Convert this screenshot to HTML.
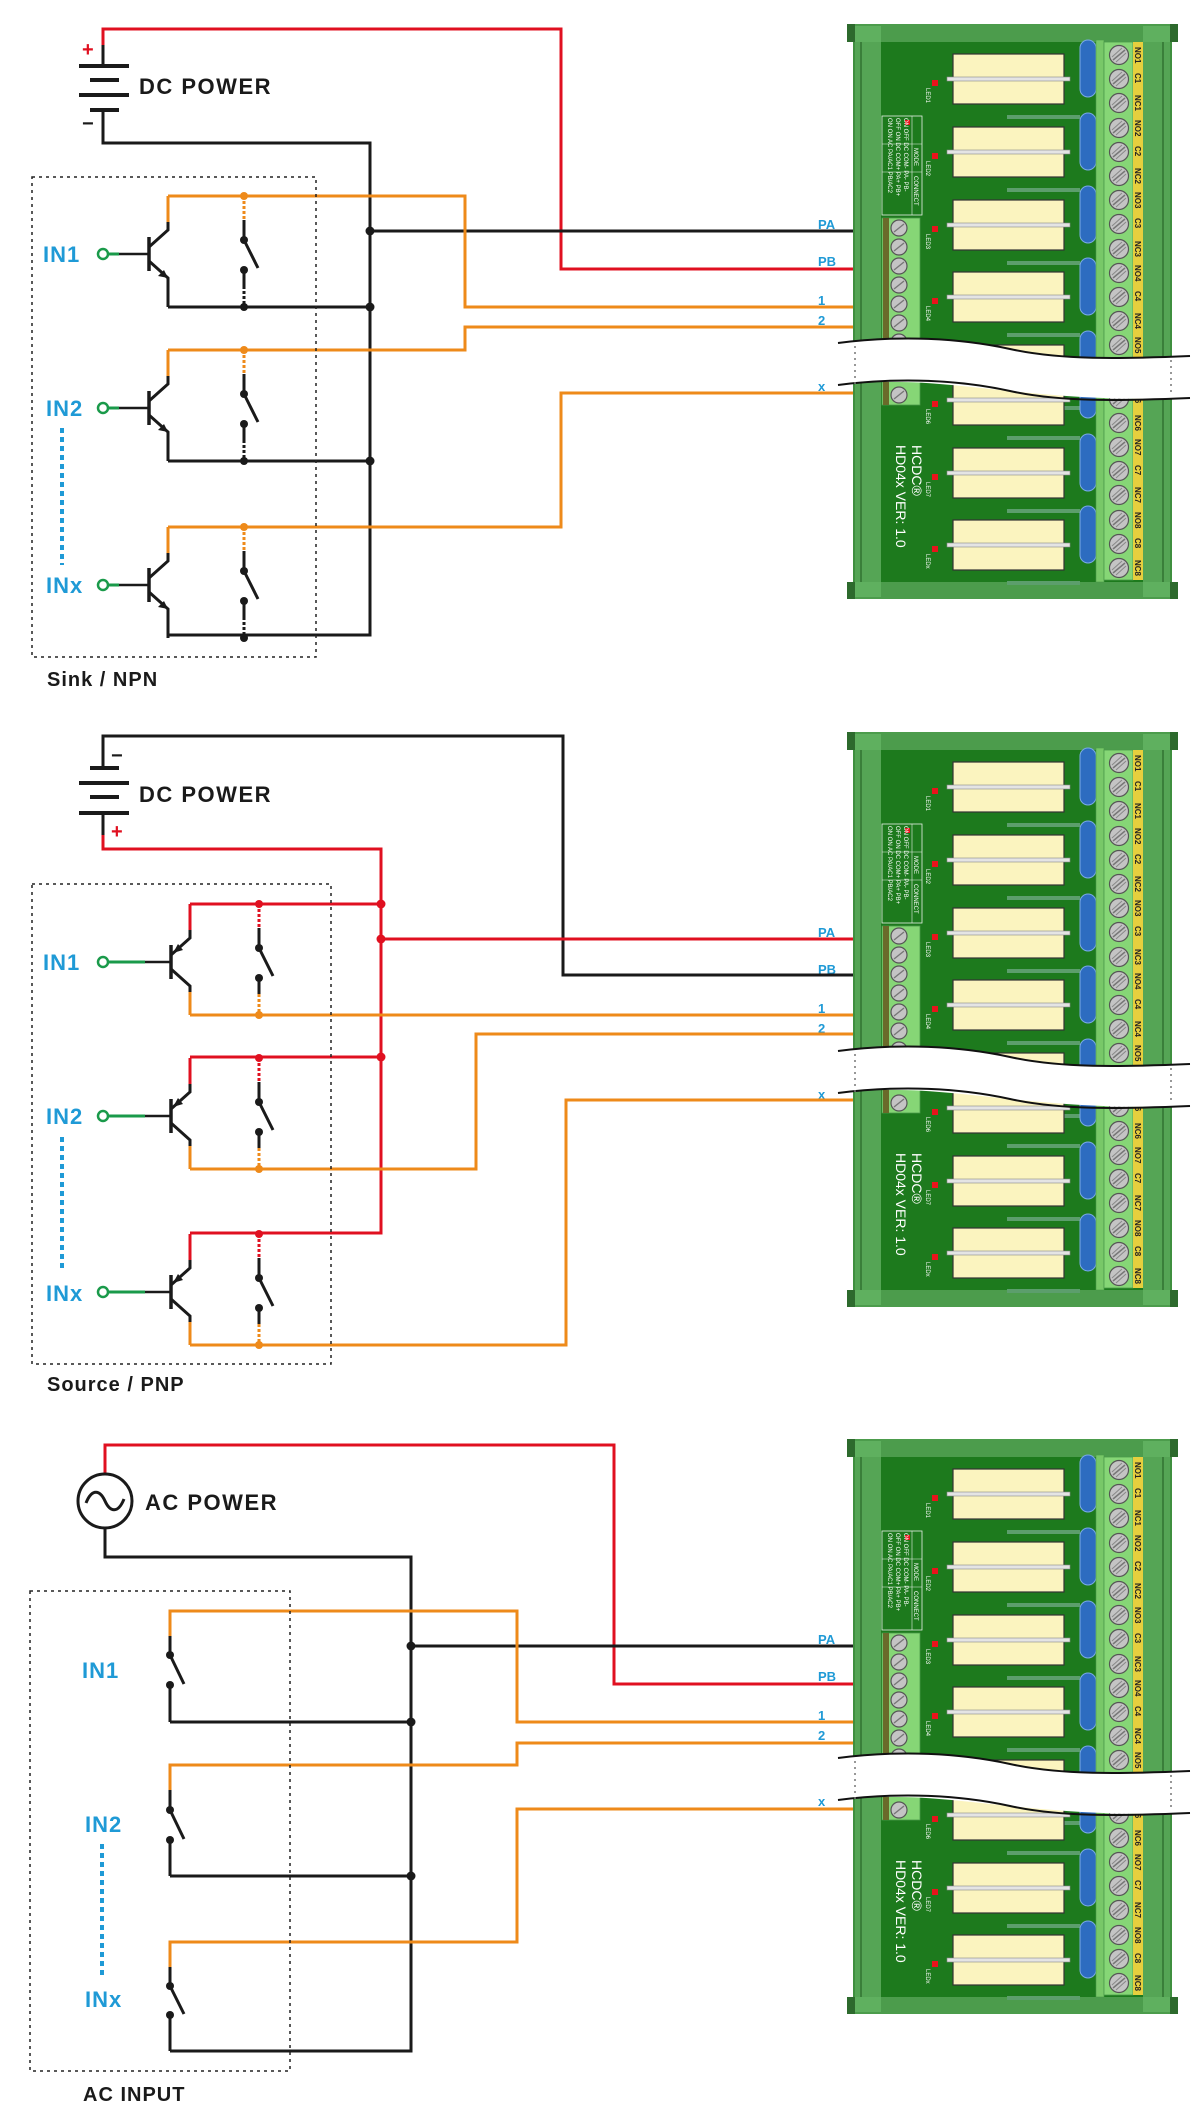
<!DOCTYPE html>
<html><head><meta charset="utf-8"><style>
html,body{margin:0;padding:0;background:#fff}
svg{display:block}
.lbl{font-family:"Liberation Sans",sans-serif;font-weight:bold;fill:#1f9ad6;font-size:22px;letter-spacing:1px}
.ttl{font-family:"Liberation Sans",sans-serif;font-weight:bold;fill:#1a1a1a;font-size:22px;letter-spacing:1.5px}
.cap{font-family:"Liberation Sans",sans-serif;font-weight:bold;fill:#1a1a1a;font-size:20px;letter-spacing:1px}
.wl{font-family:"Liberation Sans",sans-serif;font-weight:bold;fill:#1f9ad6;font-size:13px}
.tl{font-family:"Liberation Sans",sans-serif;font-weight:bold;fill:#222;font-size:8px}
.tiny{font-family:"Liberation Sans",sans-serif;fill:#fff;font-size:6px}
.brd{font-family:"Liberation Sans",sans-serif;fill:#fff;font-size:14px}
</style></head><body>
<svg width="1200" height="2122" viewBox="0 0 1200 2122" xmlns="http://www.w3.org/2000/svg">
<defs>
<g id="screw"><circle r="9.5" fill="#c4c4c4" stroke="#555" stroke-width="1.2"/><line x1="-6" y1="5" x2="6" y2="-5" stroke="#777" stroke-width="1.5"/><line x1="-3" y1="7" x2="7" y2="-2" stroke="#888" stroke-width="1"/><line x1="-7" y1="2" x2="3" y2="-7" stroke="#888" stroke-width="1"/></g>
<g id="sscrew"><circle r="8" fill="#c4c4c4" stroke="#555" stroke-width="1.2"/><line x1="-5" y1="4" x2="5" y2="-4" stroke="#777" stroke-width="1.4"/></g>
<g id="relay">
<rect x="953" y="0" width="111" height="50" fill="#fbf4bf" stroke="#333" stroke-width="1.2"/>
<rect x="947" y="23" width="123" height="4" fill="#e4e4e4" stroke="#888" stroke-width="0.6"/>
<rect x="932" y="26" width="6" height="6" fill="#e8141c"/>
<rect x="1080" y="-14" width="16" height="57" rx="8" fill="#2d6cc0" stroke="#7aaae6" stroke-width="1"/>
<rect x="1007" y="61" width="73" height="4" fill="#5c9e6c"/>
</g>
<g id="board">
<rect x="853" y="36" width="319" height="552" fill="#3f8f3f"/>
<rect x="855" y="36" width="26" height="552" fill="#55a555"/>
<rect x="860" y="36" width="2" height="552" fill="#3a7f3a"/>
<rect x="1143" y="36" width="27" height="552" fill="#55a555"/>
<rect x="1162" y="36" width="2" height="552" fill="#3a7f3a"/>
<rect x="881" y="36" width="262" height="546" fill="#1d7a1d"/>
<rect x="847" y="24" width="331" height="18" fill="#4c9c4c"/>
<rect x="847" y="24" width="8" height="18" fill="#2d6a2d"/><rect x="1170" y="24" width="8" height="18" fill="#2d6a2d"/>
<rect x="855" y="26" width="26" height="16" fill="#5fb05f"/><rect x="1143" y="26" width="27" height="16" fill="#5fb05f"/>
<rect x="847" y="582" width="331" height="17" fill="#4c9c4c"/>
<rect x="847" y="582" width="8" height="17" fill="#2d6a2d"/><rect x="1170" y="582" width="8" height="17" fill="#2d6a2d"/>
<rect x="855" y="582" width="26" height="15" fill="#5fb05f"/><rect x="1143" y="582" width="27" height="15" fill="#5fb05f"/>
<use href="#relay" y="54"/><use href="#relay" y="127"/><use href="#relay" y="200"/><use href="#relay" y="272"/><use href="#relay" y="345"/><use href="#relay" y="375"/><use href="#relay" y="448"/><use href="#relay" y="520"/>
<text class="tiny" transform="rotate(90 926 88)" x="926" y="88">LED1</text>
<text class="tiny" transform="rotate(90 926 161)" x="926" y="161">LED2</text>
<text class="tiny" transform="rotate(90 926 234)" x="926" y="234">LED3</text>
<text class="tiny" transform="rotate(90 926 306)" x="926" y="306">LED4</text>
<text class="tiny" transform="rotate(90 926 409)" x="926" y="409">LED6</text>
<text class="tiny" transform="rotate(90 926 482)" x="926" y="482">LED7</text>
<text class="tiny" transform="rotate(90 926 554)" x="926" y="554">LEDx</text>
<rect x="1096" y="40" width="8" height="542" fill="#78c868" stroke="#4a9a4a" stroke-width="0.6"/>
<rect x="1104" y="42" width="29" height="538" fill="#86d676" stroke="#4a9a4a" stroke-width="0.8"/>
<rect x="1133" y="42" width="10" height="538" fill="#e6cf3e"/>
<g>
<use href="#screw" x="1119" y="55"/><use href="#screw" x="1119" y="79"/><use href="#screw" x="1119" y="103"/><use href="#screw" x="1119" y="128"/><use href="#screw" x="1119" y="152"/><use href="#screw" x="1119" y="176"/><use href="#screw" x="1119" y="200"/><use href="#screw" x="1119" y="224"/><use href="#screw" x="1119" y="249"/><use href="#screw" x="1119" y="273"/><use href="#screw" x="1119" y="297"/><use href="#screw" x="1119" y="321"/><use href="#screw" x="1119" y="345"/>
<use href="#screw" x="1119" y="399"/><use href="#screw" x="1119" y="423"/><use href="#screw" x="1119" y="447"/><use href="#screw" x="1119" y="471"/><use href="#screw" x="1119" y="495"/><use href="#screw" x="1119" y="520"/><use href="#screw" x="1119" y="544"/><use href="#screw" x="1119" y="568"/>
</g>
<g>
<text class="tl" transform="rotate(90 1135 47)" x="1135" y="47">NO1</text>
<text class="tl" transform="rotate(90 1135 73)" x="1135" y="73">C1</text>
<text class="tl" transform="rotate(90 1135 95)" x="1135" y="95">NC1</text>
<text class="tl" transform="rotate(90 1135 120)" x="1135" y="120">NO2</text>
<text class="tl" transform="rotate(90 1135 146)" x="1135" y="146">C2</text>
<text class="tl" transform="rotate(90 1135 168)" x="1135" y="168">NC2</text>
<text class="tl" transform="rotate(90 1135 192)" x="1135" y="192">NO3</text>
<text class="tl" transform="rotate(90 1135 218)" x="1135" y="218">C3</text>
<text class="tl" transform="rotate(90 1135 241)" x="1135" y="241">NC3</text>
<text class="tl" transform="rotate(90 1135 265)" x="1135" y="265">NO4</text>
<text class="tl" transform="rotate(90 1135 291)" x="1135" y="291">C4</text>
<text class="tl" transform="rotate(90 1135 313)" x="1135" y="313">NC4</text>
<text class="tl" transform="rotate(90 1135 337)" x="1135" y="337">NO5</text>
<text class="tl" transform="rotate(90 1135 393)" x="1135" y="393">C6</text>
<text class="tl" transform="rotate(90 1135 415)" x="1135" y="415">NC6</text>
<text class="tl" transform="rotate(90 1135 439)" x="1135" y="439">NO7</text>
<text class="tl" transform="rotate(90 1135 465)" x="1135" y="465">C7</text>
<text class="tl" transform="rotate(90 1135 487)" x="1135" y="487">NC7</text>
<text class="tl" transform="rotate(90 1135 512)" x="1135" y="512">NO8</text>
<text class="tl" transform="rotate(90 1135 538)" x="1135" y="538">C8</text>
<text class="tl" transform="rotate(90 1135 560)" x="1135" y="560">NC8</text>
</g>
<rect x="882" y="116" width="40" height="99" fill="none" stroke="#e8f0e8" stroke-width="0.8"/>
<line x1="912" y1="116" x2="912" y2="215" stroke="#e8f0e8" stroke-width="0.6"/>
<line x1="882" y1="144" x2="922" y2="144" stroke="#e8f0e8" stroke-width="0.6"/>
<line x1="882" y1="172" x2="922" y2="172" stroke="#e8f0e8" stroke-width="0.6"/>
<rect x="905" y="120" width="5" height="5" fill="#e8141c"/>
<text class="tiny" transform="rotate(90 914 148)" x="914" y="148">MODE</text>
<text class="tiny" transform="rotate(90 914 176)" x="914" y="176">CONNECT</text>
<text class="tiny" transform="rotate(90 904 118)" x="904" y="118">ON OFF DC COM- PA- PB-</text>
<text class="tiny" transform="rotate(90 896 118)" x="896" y="118">OFF ON DC COM+ PA+ PB+</text>
<text class="tiny" transform="rotate(90 888 118)" x="888" y="118">ON ON AC PA/AC1 PB/AC2</text>
<rect x="882" y="218" width="38" height="187" fill="#86d676" stroke="#4a9a4a" stroke-width="0.8"/>
<rect x="883" y="218" width="6" height="187" fill="#6a6a2a"/>
<use href="#sscrew" x="899" y="228"/><use href="#sscrew" x="899" y="247"/><use href="#sscrew" x="899" y="266"/><use href="#sscrew" x="899" y="285"/><use href="#sscrew" x="899" y="304"/><use href="#sscrew" x="899" y="323"/><use href="#sscrew" x="899" y="342"/><use href="#sscrew" x="899" y="395"/>
<text class="brd" transform="rotate(90 912 445)" x="912" y="445">HCDC®</text>
<text class="brd" transform="rotate(90 896 445)" x="896" y="445">HD04x  VER: 1.0</text>
<path d="M838,343 C900,335 960,338 1010,349 S1120,359 1190,356 L1190,398 C1120,401 1060,396 1010,391 S900,377 838,385 Z" fill="#fff"/>
<path d="M838,343 C900,335 960,338 1010,349 S1120,359 1190,356" fill="none" stroke="#111" stroke-width="2"/>
<path d="M838,385 C900,377 960,380 1010,391 S1120,401 1190,398" fill="none" stroke="#111" stroke-width="2"/>
<line x1="855" y1="346" x2="855" y2="386" stroke="#777" stroke-width="1.5" stroke-dasharray="2,4"/>
<line x1="1171" y1="360" x2="1171" y2="396" stroke="#777" stroke-width="1.5" stroke-dasharray="2,4"/>
<text class="wl" x="818" y="229">PA</text>
<text class="wl" x="818" y="266">PB</text>
<text class="wl" x="818" y="305">1</text>
<text class="wl" x="818" y="325">2</text>
<text class="wl" x="818" y="391">x</text>
</g>
</defs>

<!-- boards -->
<use href="#board"/>
<use href="#board" y="708"/>
<use href="#board" y="1415"/>

<g fill="none" stroke-width="3" stroke-linejoin="miter">
<!-- ========== SECTION 1 ========== -->
<polyline points="103,45 103,29 561,29 561,269 853,269" stroke="#e01020"/>
<line x1="103" y1="45" x2="103" y2="66" stroke="#1a1a1a"/>
<line x1="79" y1="66" x2="129" y2="66" stroke="#1a1a1a" stroke-width="4"/>
<line x1="90" y1="80" x2="119" y2="80" stroke="#1a1a1a" stroke-width="4"/>
<line x1="79" y1="95" x2="129" y2="95" stroke="#1a1a1a" stroke-width="4"/>
<line x1="90" y1="110" x2="119" y2="110" stroke="#1a1a1a" stroke-width="4"/>
<polyline points="103,110 103,143 370,143 370,635 168,635" stroke="#1a1a1a"/>
<line x1="370" y1="231" x2="853" y2="231" stroke="#1a1a1a"/>
<polyline points="168,196 465,196 465,307 853,307" stroke="#ee8a1a"/>
<polyline points="168,350 465,350 465,327 853,327" stroke="#ee8a1a"/>
<polyline points="168,527 561,527 561,393 853,393" stroke="#ee8a1a"/>
<line x1="168" y1="307" x2="370" y2="307" stroke="#1a1a1a"/>
<line x1="168" y1="461" x2="370" y2="461" stroke="#1a1a1a"/>

<!-- ========== SECTION 2 ========== -->
<polyline points="103,768 103,736 563,736 563,975 853,975" stroke="#1a1a1a"/>
<line x1="90" y1="768" x2="119" y2="768" stroke="#1a1a1a" stroke-width="4"/>
<line x1="79" y1="783" x2="129" y2="783" stroke="#1a1a1a" stroke-width="4"/>
<line x1="90" y1="797" x2="119" y2="797" stroke="#1a1a1a" stroke-width="4"/>
<line x1="79" y1="813" x2="129" y2="813" stroke="#1a1a1a" stroke-width="4"/>
<line x1="103" y1="813" x2="103" y2="835" stroke="#1a1a1a"/>
<polyline points="103,835 103,849 381,849 381,1233 190,1233" stroke="#e01020"/>
<line x1="190" y1="904" x2="381" y2="904" stroke="#e01020"/>
<line x1="190" y1="1057" x2="381" y2="1057" stroke="#e01020"/>
<line x1="381" y1="939" x2="853" y2="939" stroke="#e01020"/>
<polyline points="190,1015 853,1015" stroke="#ee8a1a"/>
<polyline points="190,1169 476,1169 476,1034 853,1034" stroke="#ee8a1a"/>
<polyline points="190,1345 566,1345 566,1100 853,1100" stroke="#ee8a1a"/>

<!-- ========== SECTION 3 ========== -->
<polyline points="105,1474 105,1445 614,1445 614,1684 853,1684" stroke="#e01020"/>
<polyline points="105,1528 105,1557 411,1557 411,2051 170,2051" stroke="#1a1a1a"/>
<line x1="411" y1="1646" x2="853" y2="1646" stroke="#1a1a1a"/>
<line x1="170" y1="1722" x2="411" y2="1722" stroke="#1a1a1a"/>
<line x1="170" y1="1876" x2="411" y2="1876" stroke="#1a1a1a"/>
<polyline points="170,1636 170,1611 517,1611 517,1722 853,1722" stroke="#ee8a1a"/>
<polyline points="170,1790 170,1765 517,1765 517,1743 853,1743" stroke="#ee8a1a"/>
<polyline points="170,1967 170,1942 517,1942 517,1809 853,1809" stroke="#ee8a1a"/>
</g>

<!-- junction dots -->
<g fill="#1a1a1a">
<circle cx="370" cy="231" r="4.5"/><circle cx="370" cy="307" r="4.5"/><circle cx="370" cy="461" r="4.5"/>
<circle cx="411" cy="1646" r="4.5"/><circle cx="411" cy="1722" r="4.5"/><circle cx="411" cy="1876" r="4.5"/>
</g>
<g fill="#e01020">
<circle cx="381" cy="904" r="4.5"/><circle cx="381" cy="939" r="4.5"/><circle cx="381" cy="1057" r="4.5"/>
</g>

<!-- NPN rows (section 1) -->
<g id="npn1">
<g fill="none" stroke-width="3">
<circle cx="103" cy="254" r="5" stroke="#1a9a4a" stroke-width="2.5" fill="#fff"/>
<line x1="108" y1="254" x2="119" y2="254" stroke="#1a9a4a"/>
<line x1="119" y1="254" x2="149" y2="254" stroke="#1a1a1a" stroke-width="2.5"/>
<line x1="149" y1="237" x2="149" y2="271" stroke="#1a1a1a" stroke-width="3.5"/>
<polyline points="149,247 168,230 168,222" stroke="#1a1a1a"/>
<line x1="168" y1="222" x2="168" y2="196" stroke="#ee8a1a"/>
<polyline points="149,261 168,278 168,307" stroke="#1a1a1a"/>
<line x1="244" y1="196" x2="244" y2="220" stroke="#ee8a1a" stroke-dasharray="3,2"/>
<line x1="244" y1="220" x2="244" y2="240" stroke="#1a1a1a"/>
<line x1="244" y1="240" x2="258" y2="268" stroke="#1a1a1a"/>
<line x1="244" y1="270" x2="244" y2="286" stroke="#1a1a1a"/>
<line x1="244" y1="286" x2="244" y2="307" stroke="#1a1a1a" stroke-dasharray="3,2"/>
</g>
<polygon points="168,278 158,276 164,270" fill="#1a1a1a"/>
<circle cx="244" cy="196" r="4" fill="#ee8a1a"/>
<circle cx="244" cy="240" r="4" fill="#1a1a1a"/><circle cx="244" cy="270" r="4" fill="#1a1a1a"/>
<circle cx="244" cy="307" r="4" fill="#1a1a1a"/>
</g>
<use href="#npn1" y="154"/>
<use href="#npn1" y="331"/>

<!-- PNP rows (section 2) -->
<g id="pnp1">
<g fill="none" stroke-width="3">
<circle cx="103" cy="962" r="5" stroke="#1a9a4a" stroke-width="2.5" fill="#fff"/>
<line x1="108" y1="962" x2="145" y2="962" stroke="#1a9a4a"/>
<line x1="145" y1="962" x2="171" y2="962" stroke="#1a1a1a" stroke-width="2.5"/>
<line x1="171" y1="945" x2="171" y2="979" stroke="#1a1a1a" stroke-width="3.5"/>
<polyline points="171,955 190,938 190,930" stroke="#1a1a1a"/>
<line x1="190" y1="930" x2="190" y2="904" stroke="#e01020"/>
<polyline points="171,969 190,986 190,992" stroke="#1a1a1a"/>
<line x1="190" y1="992" x2="190" y2="1015" stroke="#ee8a1a"/>
<line x1="259" y1="904" x2="259" y2="928" stroke="#e01020" stroke-dasharray="3,2"/>
<line x1="259" y1="928" x2="259" y2="948" stroke="#1a1a1a"/>
<line x1="259" y1="948" x2="273" y2="976" stroke="#1a1a1a"/>
<line x1="259" y1="978" x2="259" y2="994" stroke="#1a1a1a"/>
<line x1="259" y1="994" x2="259" y2="1015" stroke="#ee8a1a" stroke-dasharray="3,2"/>
</g>
<polygon points="173,953 183,950 178,944" fill="#1a1a1a"/>
<circle cx="259" cy="904" r="4" fill="#e01020"/>
<circle cx="259" cy="948" r="4" fill="#1a1a1a"/><circle cx="259" cy="978" r="4" fill="#1a1a1a"/>
<circle cx="259" cy="1015" r="4" fill="#ee8a1a"/>
</g>
<use href="#pnp1" y="154"/>
<use href="#pnp1" y="330"/>

<!-- AC switches (section 3) -->
<g id="acs1" fill="none" stroke-width="3">
<line x1="170" y1="1636" x2="170" y2="1655" stroke="#1a1a1a"/>
<line x1="170" y1="1655" x2="184" y2="1684" stroke="#1a1a1a"/>
<line x1="170" y1="1685" x2="170" y2="1722" stroke="#1a1a1a"/>
<circle cx="170" cy="1655" r="4" fill="#1a1a1a" stroke="none"/>
<circle cx="170" cy="1685" r="4" fill="#1a1a1a" stroke="none"/>
</g>
<g fill="none" stroke-width="3">
<line x1="170" y1="1790" x2="170" y2="1810" stroke="#1a1a1a"/>
<line x1="170" y1="1810" x2="184" y2="1839" stroke="#1a1a1a"/>
<line x1="170" y1="1840" x2="170" y2="1876" stroke="#1a1a1a"/>
<circle cx="170" cy="1810" r="4" fill="#1a1a1a" stroke="none"/>
<circle cx="170" cy="1840" r="4" fill="#1a1a1a" stroke="none"/>
<line x1="170" y1="1967" x2="170" y2="1986" stroke="#1a1a1a"/>
<line x1="170" y1="1986" x2="184" y2="2014" stroke="#1a1a1a"/>
<line x1="170" y1="2015" x2="170" y2="2051" stroke="#1a1a1a"/>
<circle cx="170" cy="1986" r="4" fill="#1a1a1a" stroke="none"/>
<circle cx="170" cy="2015" r="4" fill="#1a1a1a" stroke="none"/>
</g>

<!-- AC source -->
<circle cx="105" cy="1501" r="27" fill="#fff" stroke="#1a1a1a" stroke-width="3"/>
<path d="M86,1503 C92,1488 100,1490 105,1501 C110,1512 118,1514 124,1499" fill="none" stroke="#1a1a1a" stroke-width="3"/>

<!-- dotted boxes -->
<g fill="none" stroke="#222" stroke-width="1.5" stroke-dasharray="3,4">
<rect x="32" y="177" width="284" height="480"/>
<rect x="32" y="884" width="299" height="480"/>
<rect x="30" y="1591" width="260" height="480"/>
</g>
<!-- blue dotted -->
<g stroke="#1f9ad6" stroke-width="4" stroke-dasharray="5,4">
<line x1="62" y1="428" x2="62" y2="565"/>
<line x1="62" y1="1137" x2="62" y2="1271"/>
<line x1="102" y1="1844" x2="102" y2="1978"/>
</g>

<!-- polarity signs -->
<g font-family="Liberation Sans,sans-serif" font-weight="bold">
<text x="82" y="56" fill="#e01020" font-size="20">+</text>
<text x="82" y="130" fill="#1a1a1a" font-size="20">−</text>
<text x="111" y="762" fill="#1a1a1a" font-size="20">−</text>
<text x="111" y="838" fill="#e01020" font-size="20">+</text>
</g>

<!-- labels -->
<text class="ttl" x="139" y="94">DC POWER</text>
<text class="ttl" x="139" y="802">DC POWER</text>
<text class="ttl" x="145" y="1510">AC POWER</text>
<text class="lbl" x="43" y="262">IN1</text>
<text class="lbl" x="46" y="416">IN2</text>
<text class="lbl" x="46" y="593">INx</text>
<text class="lbl" x="43" y="970">IN1</text>
<text class="lbl" x="46" y="1124">IN2</text>
<text class="lbl" x="46" y="1301">INx</text>
<text class="lbl" x="82" y="1678">IN1</text>
<text class="lbl" x="85" y="1832">IN2</text>
<text class="lbl" x="85" y="2007">INx</text>
<text class="cap" x="47" y="686">Sink / NPN</text>
<text class="cap" x="47" y="1391">Source / PNP</text>
<text class="cap" x="83" y="2101">AC INPUT</text>
</svg>
</body></html>
